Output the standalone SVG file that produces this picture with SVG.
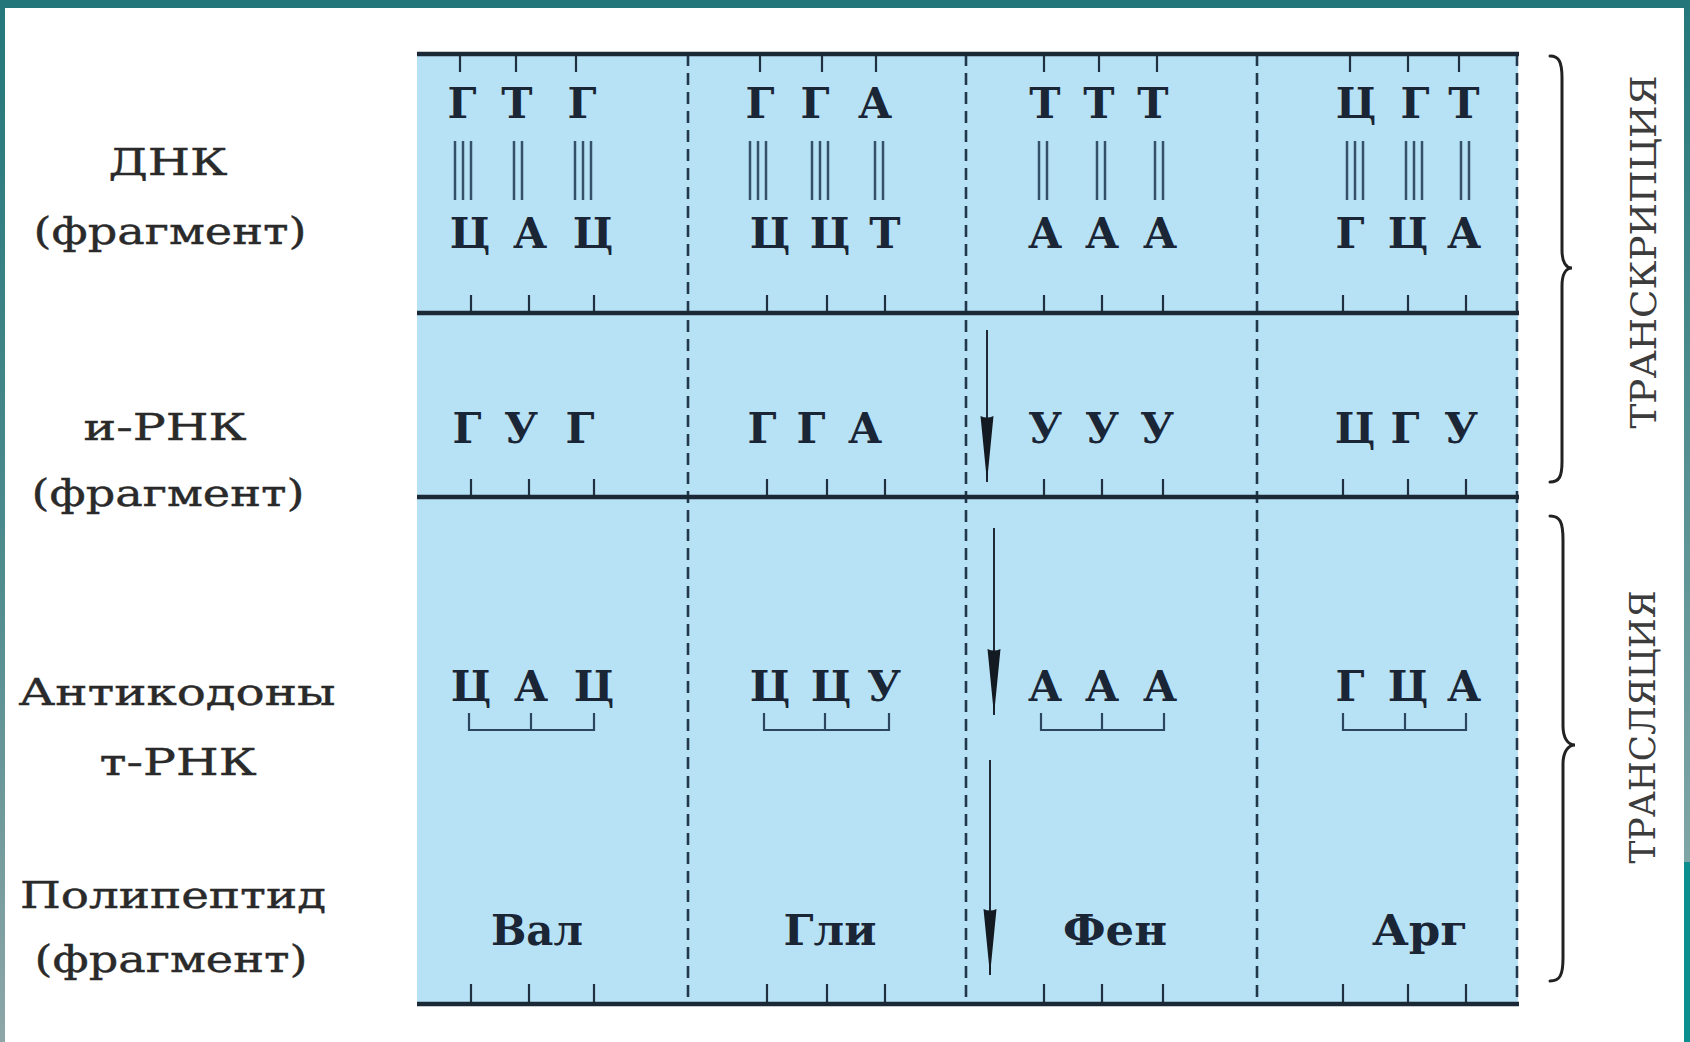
<svg xmlns="http://www.w3.org/2000/svg" width="1690" height="1042" viewBox="0 0 1690 1042">
  <defs>
    <linearGradient id="edgeLeft" x1="0" y1="0" x2="0" y2="1">
      <stop offset="0" stop-color="#23777a"/>
      <stop offset="0.55" stop-color="#4f8c8e"/>
      <stop offset="1" stop-color="#8ea6a8"/>
    </linearGradient>
    <linearGradient id="edgeRight" x1="0" y1="0" x2="0" y2="1">
      <stop offset="0" stop-color="#23777a"/>
      <stop offset="1" stop-color="#7fa5a6"/>
    </linearGradient>
    <marker id="dart" viewBox="0 0 66 14" refX="66" refY="7" markerWidth="66" markerHeight="14" markerUnits="userSpaceOnUse" orient="auto">
      <path d="M0,0.5 L66,7 L0,13.5 Q3,7 0,0.5 Z" fill="#141a22"/>
    </marker>
    <style>
      .band { fill: #b7e2f6; }
      .rule { stroke: #1b2836; stroke-width: 4.5; fill: none; }
      .dash { stroke: #22384a; stroke-width: 2.6; stroke-dasharray: 12 7; fill: none; }
      .tick { stroke: #1f3040; stroke-width: 2.2; fill: none; }
      .bond { stroke: #35506a; stroke-width: 2.5; fill: none; }
      .brk  { stroke: #2c4660; stroke-width: 2.2; fill: none; }
      .arrow { stroke: #1e2a36; stroke-width: 2; fill: none; marker-end: url(#dart); }
      .brace { stroke: #222; stroke-width: 3; fill: none; stroke-linecap: round; }
      .base { font-family: "DejaVu Serif", "Liberation Serif", serif; font-weight: bold; font-size: 42px; fill: #1a2535; text-anchor: middle; }
      .amino { font-family: "DejaVu Serif", "Liberation Serif", serif; font-weight: bold; font-size: 43px; fill: #1a2535; text-anchor: middle; }
      .label { font-family: "DejaVu Serif", "Liberation Serif", serif; font-size: 38px; fill: #2a2a2a; stroke: #2a2a2a; stroke-width: 0.4; text-anchor: middle; }
      .side { font-family: "DejaVu Serif", "Liberation Serif", serif; font-size: 36px; fill: #3c3c3c; text-anchor: middle; }
    </style>
  </defs>

  <!-- page background and slide frame -->
  <rect x="0" y="0" width="1690" height="1042" fill="#ffffff"/>
  <rect x="0" y="0" width="1690" height="8" fill="#23777a"/>
  <rect x="0" y="0" width="5" height="1042" fill="url(#edgeLeft)"/>
  <rect x="1684" y="0" width="6" height="862" fill="url(#edgeRight)"/>
  <rect x="1684" y="862" width="6" height="180" fill="#0b8e8e"/>

  <!-- table body -->
  <rect class="band" x="417" y="54" width="1101" height="950"/>

  <!-- row labels -->
  <g id="label-dna">
    <text class="label" x="168" y="175" textLength="119" lengthAdjust="spacingAndGlyphs">ДНК</text>
    <text class="label" x="170" y="244" textLength="273" lengthAdjust="spacingAndGlyphs">(фрагмент)</text>
  </g>
  <g id="label-mrna">
    <text class="label" x="165" y="440" textLength="163" lengthAdjust="spacingAndGlyphs">и-РНК</text>
    <text class="label" x="168" y="506" textLength="273" lengthAdjust="spacingAndGlyphs">(фрагмент)</text>
  </g>
  <g id="label-trna">
    <text class="label" x="177" y="705" textLength="317" lengthAdjust="spacingAndGlyphs">Антикодоны</text>
    <text class="label" x="178" y="775" textLength="157" lengthAdjust="spacingAndGlyphs">т-РНК</text>
  </g>
  <g id="label-peptide">
    <text class="label" x="173" y="908" textLength="306" lengthAdjust="spacingAndGlyphs">Полипептид</text>
    <text class="label" x="171" y="972" textLength="273" lengthAdjust="spacingAndGlyphs">(фрагмент)</text>
  </g>

  <!-- column dividers and right edge -->
  <g id="dividers">
    <line class="dash" x1="688" y1="54" x2="688" y2="1004"/>
    <line class="dash" x1="966" y1="54" x2="966" y2="1004"/>
    <line class="dash" x1="1257" y1="54" x2="1257" y2="1004"/>
    <line class="dash" x1="1517" y1="54" x2="1517" y2="1004"/>
  </g>

  <!-- ticks on the horizontal rules -->
  <g id="ticks">
    <path class="tick" d="M460,54V72 M516,54V72 M576,54V72 M760,54V72 M822,54V72 M876,54V72 M1044,54V72 M1099,54V72 M1157,54V72 M1350,54V72 M1408,54V72 M1459,54V72"/>
    <path class="tick" d="M471,313V295 M529,313V295 M594,313V295 M767,313V295 M827,313V295 M885,313V295 M1044,313V295 M1102,313V295 M1163,313V295 M1343,313V295 M1408,313V295 M1466,313V295"/>
    <path class="tick" d="M471,497V479 M529,497V479 M594,497V479 M767,497V479 M827,497V479 M885,497V479 M1044,497V479 M1102,497V479 M1163,497V479 M1343,497V479 M1408,497V479 M1466,497V479"/>
    <path class="tick" d="M471,1004V984 M529,1004V984 M594,1004V984 M767,1004V984 M827,1004V984 M885,1004V984 M1044,1004V984 M1102,1004V984 M1163,1004V984 M1343,1004V984 M1408,1004V984 M1466,1004V984"/>
  </g>

  <!-- horizontal rules -->
  <g id="rules">
    <line class="rule" x1="417" y1="54" x2="1519" y2="54"/>
    <line class="rule" x1="417" y1="313" x2="1519" y2="313"/>
    <line class="rule" x1="417" y1="497" x2="1519" y2="497"/>
    <line class="rule" x1="417" y1="1004" x2="1519" y2="1004"/>
  </g>

  <!-- DNA double strand -->
  <g id="dna">
    <text class="base" x="462 517 582" y="118">ГТГ</text>
    <text class="base" x="760 815 875" y="118">ГГА</text>
    <text class="base" x="1045 1099 1153" y="118">ТТТ</text>
    <text class="base" x="1356 1415 1464" y="118">ЦГТ</text>
    <path class="bond" d="M455,141V200 M463,141V200 M471,141V200 M514,141V200 M522,141V200 M575,141V200 M583,141V200 M591,141V200"/>
    <path class="bond" d="M750,141V200 M758,141V200 M766,141V200 M812,141V200 M820,141V200 M828,141V200 M875,141V200 M883,141V200"/>
    <path class="bond" d="M1039,141V200 M1047,141V200 M1097,141V200 M1105,141V200 M1155,141V200 M1163,141V200"/>
    <path class="bond" d="M1347,141V200 M1355,141V200 M1363,141V200 M1406,141V200 M1414,141V200 M1422,141V200 M1461,141V200 M1469,141V200"/>
    <text class="base" x="470 530 593" y="248">ЦАЦ</text>
    <text class="base" x="770 830 885" y="248">ЦЦТ</text>
    <text class="base" x="1045 1102 1160" y="248">ААА</text>
    <text class="base" x="1350 1408 1464" y="248">ГЦА</text>
  </g>

  <!-- messenger RNA -->
  <g id="mrna">
    <text class="base" x="467 521 580" y="443">ГУГ</text>
    <text class="base" x="762 811 865" y="443">ГГА</text>
    <text class="base" x="1045 1102 1157" y="443">УУУ</text>
    <text class="base" x="1355 1405 1461" y="443">ЦГУ</text>
  </g>

  <!-- tRNA anticodons -->
  <g id="anticodons">
    <text class="base" x="471 531 594" y="701">ЦАЦ</text>
    <text class="base" x="770 831 884" y="701">ЦЦУ</text>
    <text class="base" x="1045 1102 1160" y="701">ААА</text>
    <text class="base" x="1350 1408 1464" y="701">ГЦА</text>
    <path class="brk" d="M469,713V730H594V713 M531,730V713"/>
    <path class="brk" d="M764,713V730H889V713 M825,730V713"/>
    <path class="brk" d="M1041,713V730H1164V713 M1102,730V713"/>
    <path class="brk" d="M1343,713V730H1466V713 M1405,730V713"/>
  </g>

  <!-- polypeptide -->
  <g id="peptide">
    <text class="amino" x="537" y="945" textLength="92" lengthAdjust="spacingAndGlyphs">Вал</text>
    <text class="amino" x="830" y="945" textLength="93" lengthAdjust="spacingAndGlyphs">Гли</text>
    <text class="amino" x="1115" y="945" textLength="104" lengthAdjust="spacingAndGlyphs">Фен</text>
    <text class="amino" x="1420" y="945" textLength="96" lengthAdjust="spacingAndGlyphs">Арг</text>
  </g>

  <!-- flow arrows -->
  <g id="connectors">
    <line class="arrow" x1="987" y1="330" x2="987" y2="482"/>
    <line class="arrow" x1="994" y1="528" x2="994" y2="715"/>
    <line class="arrow" x1="990" y1="760" x2="990" y2="975"/>
  </g>

  <!-- process braces -->
  <g id="transcription">
    <path class="brace" d="M1550,56 C1559,56 1562,62 1562,78 L1562,250 C1562,262 1566,268 1572,268 C1566,268 1562,274 1562,286 L1562,462 C1562,477 1559,482 1550,482"/>
    <text class="side" transform="translate(1656,252) rotate(-90)" textLength="353" lengthAdjust="spacingAndGlyphs">ТРАНСКРИПЦИЯ</text>
  </g>
  <g id="translation">
    <path class="brace" d="M1550,516 C1560,516 1563,522 1563,540 L1563,726 C1563,738 1568,745 1575,745 C1568,745 1563,752 1563,764 L1563,958 C1563,975 1560,981 1550,981"/>
    <text class="side" transform="translate(1655,727) rotate(-90)" textLength="273" lengthAdjust="spacingAndGlyphs">ТРАНСЛЯЦИЯ</text>
  </g>
</svg>
